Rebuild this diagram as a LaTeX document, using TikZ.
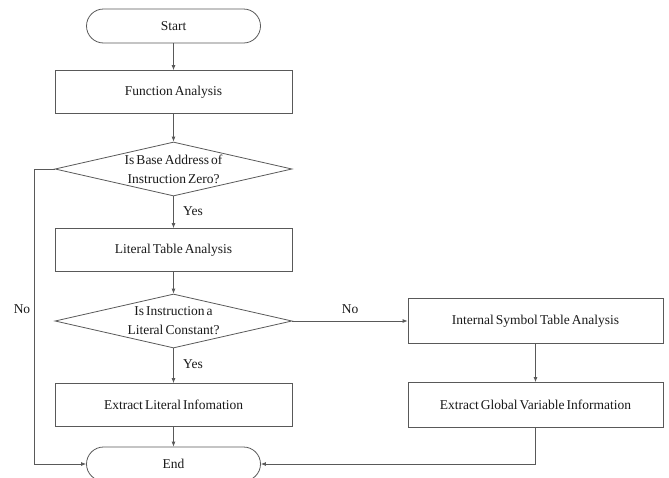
\documentclass[tikz,border=0pt]{standalone}
\usepackage{fontspec}
\setmainfont[WordSpace=0.6]{Liberation Serif}
\usetikzlibrary{shapes.geometric,arrows.meta}

\begin{document}
\begin{tikzpicture}[x=1pt,y=-1pt,
    every node/.style={font=\fontsize{13.5}{19}\selectfont, text=black!90},
    line/.style={draw=black!65, line width=0.8pt},
    arr/.style={line, -{Latex[length=5pt,width=4pt]}},
    terminal/.style={line, rounded corners=17pt, minimum width=174pt, minimum height=34pt},
    process/.style={line, minimum width=237pt, minimum height=43pt},
    decision/.style={line, diamond, minimum width=237pt, minimum height=54pt, inner sep=0pt}]

      \useasboundingbox (0,0) rectangle (669,477);

      \node[terminal] (start) at (173.5,26) {Start};
      \node[process] (func) at (173.5,92) {Function Analysis};
      \node[decision, label={[align=center]center:{Is Base Address of\\Instruction Zero?}}] (isbase) at (173.5,169) {};
      \node[process] (littab) at (173.5,250) {Literal Table Analysis};
      \node[decision, label={[align=center]center:{Is Instruction a\\Literal Constant?}}] (islit) at (173.5,321) {};
      \node[process] (extlit) at (173.5,405) {Extract Literal Infomation};
      \node[terminal] (end) at (173.5,464) {End};

      \node[process, minimum width=255pt, minimum height=45pt] (intsym) at (535.5,321) {Internal Symbol Table Analysis};
      \node[process, minimum width=255pt, minimum height=45pt] (extglob) at (535.5,405) {Extract Global Variable Information};

      \draw[arr] (start) -- (func);
      \draw[arr] (func) -- (isbase);
      \draw[arr] (isbase) -- (littab) node[pos=0.45, right=6pt] {Yes};
      \draw[arr] (littab) -- (islit);
      \draw[arr] (islit) -- (extlit) node[pos=0.45, right=6pt] {Yes};
      \draw[arr] (extlit) -- (end);

      \draw[arr] (islit.east) -- (intsym.west) node[pos=0.5, above=4pt] {No};
      \draw[arr] (intsym) -- (extglob);

      \coordinate (noleft) at (34,169);
      \draw[arr] (isbase.west) -- (noleft) |- (end.west);
      \node (nolabel) at (22,309) {No};
      \draw[arr] (extglob.south) |- (end.east);
    \end{tikzpicture}
\end{document}
